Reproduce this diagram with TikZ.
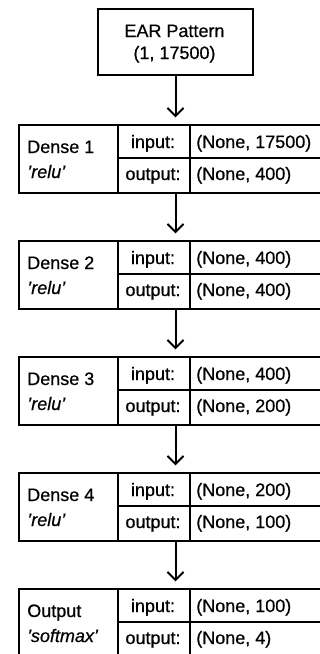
\documentclass[tikz,border=0pt]{standalone}
\usepackage{fontspec}
\setmainfont{Liberation Sans}[UprightFeatures={FakeBold=0.6}, ItalicFeatures={FakeBold=0.6}]
\usetikzlibrary{arrows.meta}
\tikzset{
  cell/.style={draw, line width=1.5pt, inner sep=0pt, anchor=north west},
  txt/.style={font=\fontsize{13.5}{16}\selectfont, inner sep=0pt},
  flow/.style={line width=1.5pt, shorten >=5pt, -{Straight Barb[length=6pt,width=12pt,line width=1.5pt]}},
}
% one layer: #1 name, #2 top y, #3 layer title, #4 activation, #5 input shape, #6 output shape
\newcommand{\layerbox}[6]{%
  \node[cell, minimum width=99*0.75pt, minimum height=68*0.75pt] (#1) at (18,#2) {};
  \node[cell, minimum width=72*0.75pt, minimum height=33*0.75pt] (#1il) at (117,#2) {};
  \node[cell, minimum width=72*0.75pt, minimum height=35*0.75pt] (#1ol) at (117,#2+33) {};
  \node[cell, minimum width=160*0.75pt, minimum height=33*0.75pt] (#1iv) at (189,#2) {};
  \node[cell, minimum width=160*0.75pt, minimum height=35*0.75pt] (#1ov) at (189,#2+33) {};
  \node[txt, anchor=base west] (#1t) at (27,#2+29) {#3};
  \node[txt, anchor=base west] (#1a) at (27,#2+54) {\textit{#4}};
  \node[txt, anchor=base] (#1ilt) at (153,#2+24) {input:};
  \node[txt, anchor=base] (#1olt) at (153,#2+56) {output:};
  \node[txt, anchor=base west] (#1ivt) at (196,#2+24) {#5};
  \node[txt, anchor=base west] (#1ovt) at (196,#2+56) {#6};
}
\begin{document}
\begin{tikzpicture}[x=0.75pt, y=-0.75pt]
\useasboundingbox (0,0) rectangle (320,654);
\clip (0,0) rectangle (320,654);
\node[cell, minimum width=155*0.75pt, minimum height=66*0.75pt] (in) at (97,8) {};
\node[txt, anchor=base] (inl1) at (174.5,37) {EAR Pattern};
\node[txt, anchor=base] (inl2) at (174.5,59) {(1, 17500)};
\layerbox{d1}{124}{Dense 1}{'relu'}{(None, 17500)}{(None, 400)}
\layerbox{d2}{240}{Dense 2}{'relu'}{(None, 400)}{(None, 400)}
\layerbox{d3}{356}{Dense 3}{'relu'}{(None, 400)}{(None, 200)}
\layerbox{d4}{472}{Dense 4}{'relu'}{(None, 200)}{(None, 100)}
\layerbox{d5}{588}{Output}{'softmax'}{(None, 100)}{(None, 4)}
\draw[flow] (in.south) -- (in.south |- d1.north);
\draw[flow] (in.south |- d1.south) -- (in.south |- d2.north);
\draw[flow] (in.south |- d2.south) -- (in.south |- d3.north);
\draw[flow] (in.south |- d3.south) -- (in.south |- d4.north);
\draw[flow] (in.south |- d4.south) -- (in.south |- d5.north);
\end{tikzpicture}
\end{document}
